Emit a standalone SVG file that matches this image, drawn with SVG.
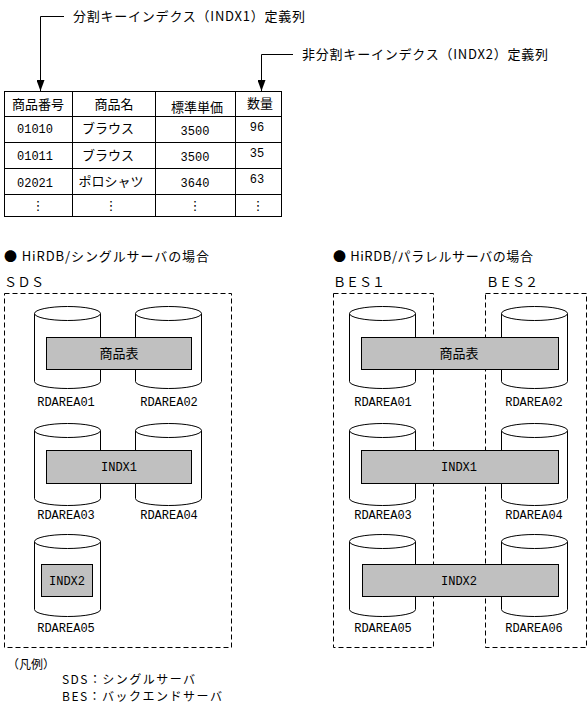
<svg xmlns="http://www.w3.org/2000/svg" xmlns:xlink="http://www.w3.org/1999/xlink" width="588" height="711" viewBox="0 0 588 711">
<style>
.t{font-family:"Noto Sans CJK JP","DejaVu Sans",sans-serif;font-size:13px;fill:#000}
.s{font-family:"Noto Sans CJK JP","DejaVu Sans",sans-serif;font-size:12px;fill:#000}
.m{font-family:"Liberation Mono","DejaVu Sans Mono",monospace;font-size:12px;fill:#000}
.c{text-anchor:middle}
.ln{stroke:#000;stroke-width:1;fill:none}
.dash{stroke:#000;stroke-width:1;fill:none;stroke-dasharray:5,3}
.gr{fill:#c0c0c0;stroke:#000;stroke-width:1}
.cyl{fill:#fff;stroke:#000;stroke-width:1}
</style>
<defs>
<marker id="ah" markerWidth="12" markerHeight="8" refX="11" refY="4" orient="auto" markerUnits="userSpaceOnUse" viewBox="0 0 12 8">
<path d="M0,0 L11,4 L0,8 Z" fill="#000"/>
</marker>
<g id="cyl">
<path class="cyl" d="M-33,0 V68 A33,7 0 0 0 33,68 V0"/>
<ellipse class="cyl" cx="0" cy="0" rx="33" ry="7"/>
</g>
</defs>
<rect width="588" height="711" fill="#fff"/>

<g id="connectors">
<polyline class="ln" points="64,16.5 40.5,16.5 40.5,91" marker-end="url(#ah)"/>
<polyline class="ln" points="293,54.5 261.5,54.5 261.5,91" marker-end="url(#ah)"/>
</g>

<g id="label-indx1-col">
<text class="t" x="73" y="21" textLength="232" lengthAdjust="spacing">分割キーインデクス（INDX1）定義列</text>
</g>
<g id="label-indx2-col">
<text class="t" x="302" y="59" textLength="246" lengthAdjust="spacing">非分割キーインデクス（INDX2）定義列</text>
</g>

<g id="table">
<rect class="ln" x="4.5" y="91.5" width="277" height="125"/>
<line class="ln" x1="72.5" y1="91.5" x2="72.5" y2="216.5"/>
<line class="ln" x1="155.5" y1="91.5" x2="155.5" y2="216.5"/>
<line class="ln" x1="235.5" y1="91.5" x2="235.5" y2="216.5"/>
<line class="ln" x1="4.5" y1="116.5" x2="281.5" y2="116.5"/>
<line class="ln" x1="4.5" y1="142.5" x2="281.5" y2="142.5"/>
<line class="ln" x1="4.5" y1="168.5" x2="281.5" y2="168.5"/>
<line class="ln" x1="4.5" y1="194.5" x2="281.5" y2="194.5"/>
<text class="t c" x="38" y="109">商品番号</text>
<text class="t c" x="114" y="109">商品名</text>
<text class="t c" x="197" y="112">標準単価</text>
<text class="t c" x="260" y="108">数量</text>
<text class="m c" x="35" y="133">01010</text>
<text class="t c" x="108" y="133">ブラウス</text>
<text class="m c" x="195" y="135">3500</text>
<text class="m c" x="257" y="131">96</text>
<text class="m c" x="35" y="160">01011</text>
<text class="t c" x="108" y="160">ブラウス</text>
<text class="m c" x="195" y="161">3500</text>
<text class="m c" x="257" y="157">35</text>
<text class="m c" x="35" y="187">02021</text>
<text class="t c" x="111" y="186">ポロシャツ</text>
<text class="m c" x="195" y="187">3640</text>
<text class="m c" x="257" y="183">63</text>
<text class="t c" x="38" y="210">⋮</text>
<text class="t c" x="111" y="210">⋮</text>
<text class="t c" x="195" y="210">⋮</text>
<text class="t c" x="258" y="210">⋮</text>
</g>

<g id="title-single">
<text class="t" x="4" y="261" textLength="205" lengthAdjust="spacing">● HiRDB/シングルサーバの場合</text>
</g>
<g id="title-parallel">
<text class="t" x="333" y="261" textLength="200" lengthAdjust="spacing">● HiRDB/パラレルサーバの場合</text>
</g>

<g id="sds">
<text class="t" x="4" y="287" textLength="40" lengthAdjust="spacing">ＳＤＳ</text>
<rect class="dash" x="4.5" y="293.5" width="227" height="354"/>
<use xlink:href="#cyl" x="67.5" y="313.5"/>
<use xlink:href="#cyl" x="168.5" y="313.5"/>
<use xlink:href="#cyl" x="67.5" y="430.5"/>
<use xlink:href="#cyl" x="168.5" y="430.5"/>
<use xlink:href="#cyl" x="67.5" y="541.5"/>
<rect class="gr" x="46.5" y="337.5" width="145" height="32"/>
<text class="t c" x="119" y="358">商品表</text>
<rect class="gr" x="46.5" y="450.5" width="145" height="33"/>
<text class="m c" x="119" y="471">INDX1</text>
<rect class="gr" x="41.5" y="564.5" width="51" height="32"/>
<text class="m c" x="67" y="585">INDX2</text>
<text class="m c" x="66" y="406">RDAREA01</text>
<text class="m c" x="169" y="406">RDAREA02</text>
<text class="m c" x="66" y="519">RDAREA03</text>
<text class="m c" x="169" y="519">RDAREA04</text>
<text class="m c" x="66" y="632">RDAREA05</text>
</g>

<g id="bes1">
<text class="t" x="333" y="287" textLength="52" lengthAdjust="spacing">ＢＥＳ１</text>
<rect class="dash" x="333.5" y="293.5" width="100" height="354"/>
<use xlink:href="#cyl" x="382.5" y="313.5"/>
<use xlink:href="#cyl" x="382.5" y="430.5"/>
<use xlink:href="#cyl" x="382.5" y="541.5"/>
<text class="m c" x="383" y="406">RDAREA01</text>
<text class="m c" x="383" y="519">RDAREA03</text>
<text class="m c" x="383" y="632">RDAREA05</text>
</g>

<g id="bes2">
<text class="t" x="486" y="287" textLength="52" lengthAdjust="spacing">ＢＥＳ２</text>
<rect class="dash" x="485.5" y="293.5" width="101" height="354"/>
<use xlink:href="#cyl" x="534.5" y="313.5"/>
<use xlink:href="#cyl" x="534.5" y="430.5"/>
<use xlink:href="#cyl" x="534.5" y="541.5"/>
<text class="m c" x="534" y="406">RDAREA02</text>
<text class="m c" x="534" y="519">RDAREA04</text>
<text class="m c" x="534" y="632">RDAREA06</text>
</g>

<g id="parallel-tables">
<rect class="gr" x="361.5" y="337.5" width="197" height="32"/>
<text class="t c" x="459" y="358">商品表</text>
<rect class="gr" x="361.5" y="450.5" width="197" height="33"/>
<text class="m c" x="459" y="471">INDX1</text>
<rect class="gr" x="362.5" y="564.5" width="196" height="32"/>
<text class="m c" x="459" y="585">INDX2</text>
</g>

<g id="legend">
<text class="s" x="7" y="669">（凡例）</text>
<text class="s" x="62" y="684" textLength="133" lengthAdjust="spacing">SDS：シングルサーバ</text>
<text class="s" x="62" y="701" textLength="160" lengthAdjust="spacing">BES：バックエンドサーバ</text>
</g>
</svg>
